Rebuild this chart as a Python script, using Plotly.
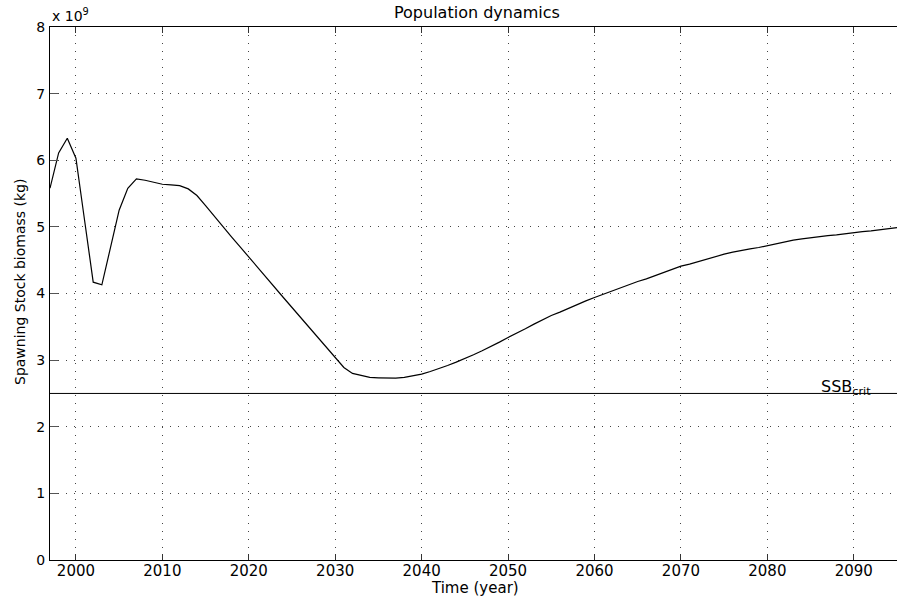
import plotly.graph_objects as go

# Years and spawning stock biomass (units of 1e9 kg)
years = list(range(1997, 2096))
ssb = [
    5.58, 6.11, 6.33, 6.03, 5.10, 4.17, 4.13, 4.68, 5.25, 5.58,   # 1997-2006
    5.72, 5.70, 5.67, 5.64, 5.63, 5.62, 5.57, 5.47, 5.32, 5.16,   # 2007-2016
    5.00, 4.85, 4.70, 4.545, 4.39, 4.24, 4.09, 3.94, 3.79, 3.64,  # 2017-2026
    3.49, 3.34, 3.19, 3.03, 2.89, 2.80, 2.77, 2.74, 2.735, 2.73,  # 2027-2036
    2.73, 2.74, 2.76, 2.79, 2.83, 2.87, 2.92, 2.97, 3.02, 3.08,   # 2037-2046
    3.14, 3.20, 3.27, 3.34, 3.40, 3.47, 3.54, 3.61, 3.67, 3.72,   # 2047-2056
    3.78, 3.83, 3.89, 3.94, 3.99, 4.04, 4.09, 4.14, 4.18, 4.22,   # 2057-2066
    4.27, 4.31, 4.36, 4.41, 4.44, 4.48, 4.52, 4.56, 4.59, 4.62,   # 2067-2076
    4.65, 4.67, 4.69, 4.72, 4.75, 4.77, 4.80, 4.82, 4.84, 4.85,   # 2077-2086
    4.87, 4.88, 4.90, 4.91, 4.93, 4.94, 4.96, 4.97, 4.99,         # 2087-2095
]
SSB_CRIT = 2.5
x_ticks = list(range(2000, 2100, 10))
y_ticks = list(range(0, 9))

FONT = "DejaVu Sans"
W, H = 897, 605
L, R, T, B = 50, 0, 27, 45
PW, PH = W - L - R, H - T - B

fig = go.Figure()
fig.add_trace(go.Scatter(x=years, y=ssb, mode="lines",
                         line=dict(color="black", width=1.2),
                         showlegend=False, hoverinfo="skip"))
fig.add_trace(go.Scatter(x=[years[0], years[-1]], y=[SSB_CRIT, SSB_CRIT], mode="lines",
                         line=dict(color="black", width=1),
                         showlegend=False, hoverinfo="skip"))

fig.update_layout(
    width=W, height=H,
    margin=dict(l=L, r=R, t=T, b=B, pad=0),
    paper_bgcolor="white", plot_bgcolor="white",
    font=dict(family=FONT, color="black"),
    showlegend=False,
)
fig.update_xaxes(
    range=[1997, 2095], tickvals=x_ticks, ticktext=[str(v) for v in x_ticks],
    ticks="inside", ticklen=6, tickcolor="#333", tickwidth=1,
    showline=True, linecolor="black", linewidth=1, mirror="ticks",
    showgrid=True, gridcolor="#444", gridwidth=1, griddash="1px,7px",
    zeroline=False, tickfont=dict(family=FONT, size=15, color="black"),
    ticklabelstandoff=-3,
)
fig.update_yaxes(
    range=[0, 8], tickvals=y_ticks, ticktext=[str(v) for v in y_ticks],
    ticks="inside", ticklen=8, tickcolor="#555", tickwidth=1,
    showline=True, linecolor="black", linewidth=1, mirror=False,
    showgrid=True, gridcolor="#444", gridwidth=1, griddash="1px,7px",
    zeroline=False, tickfont=dict(family=FONT, size=14, color="black"),
    ticklabelstandoff=1,
)

def px_x(p):
    return (p - L) / PW

def px_y(p):
    return (H - B - p) / PH

annotations = [
    dict(text="Population dynamics", x=px_x(477), y=px_y(13), xref="paper", yref="paper",
         xanchor="center", yanchor="middle", showarrow=False,
         font=dict(family=FONT, size=16, color="black")),
    dict(text="Time (year)", x=px_x(475), y=px_y(588), xref="paper", yref="paper",
         xanchor="center", yanchor="middle", showarrow=False,
         font=dict(family=FONT, size=15, color="black")),
    dict(text="Spawning Stock biomass (kg)", x=px_x(20), y=px_y(282), xref="paper", yref="paper",
         xanchor="center", yanchor="middle", textangle=-90, showarrow=False,
         font=dict(family=FONT, size=14, color="black")),
    dict(text="x 10<sup>9</sup>", x=px_x(50), y=px_y(15), xref="paper", yref="paper",
         xanchor="left", yanchor="middle", showarrow=False,
         font=dict(family=FONT, size=14, color="black")),
    dict(text="SSB<sub>crit</sub>", x=px_x(819), y=px_y(387), xref="paper", yref="paper",
         xanchor="left", yanchor="middle", showarrow=False,
         font=dict(family=FONT, size=16, color="black")),
]
fig.update_layout(annotations=annotations)

fig.write_html("out.html")
